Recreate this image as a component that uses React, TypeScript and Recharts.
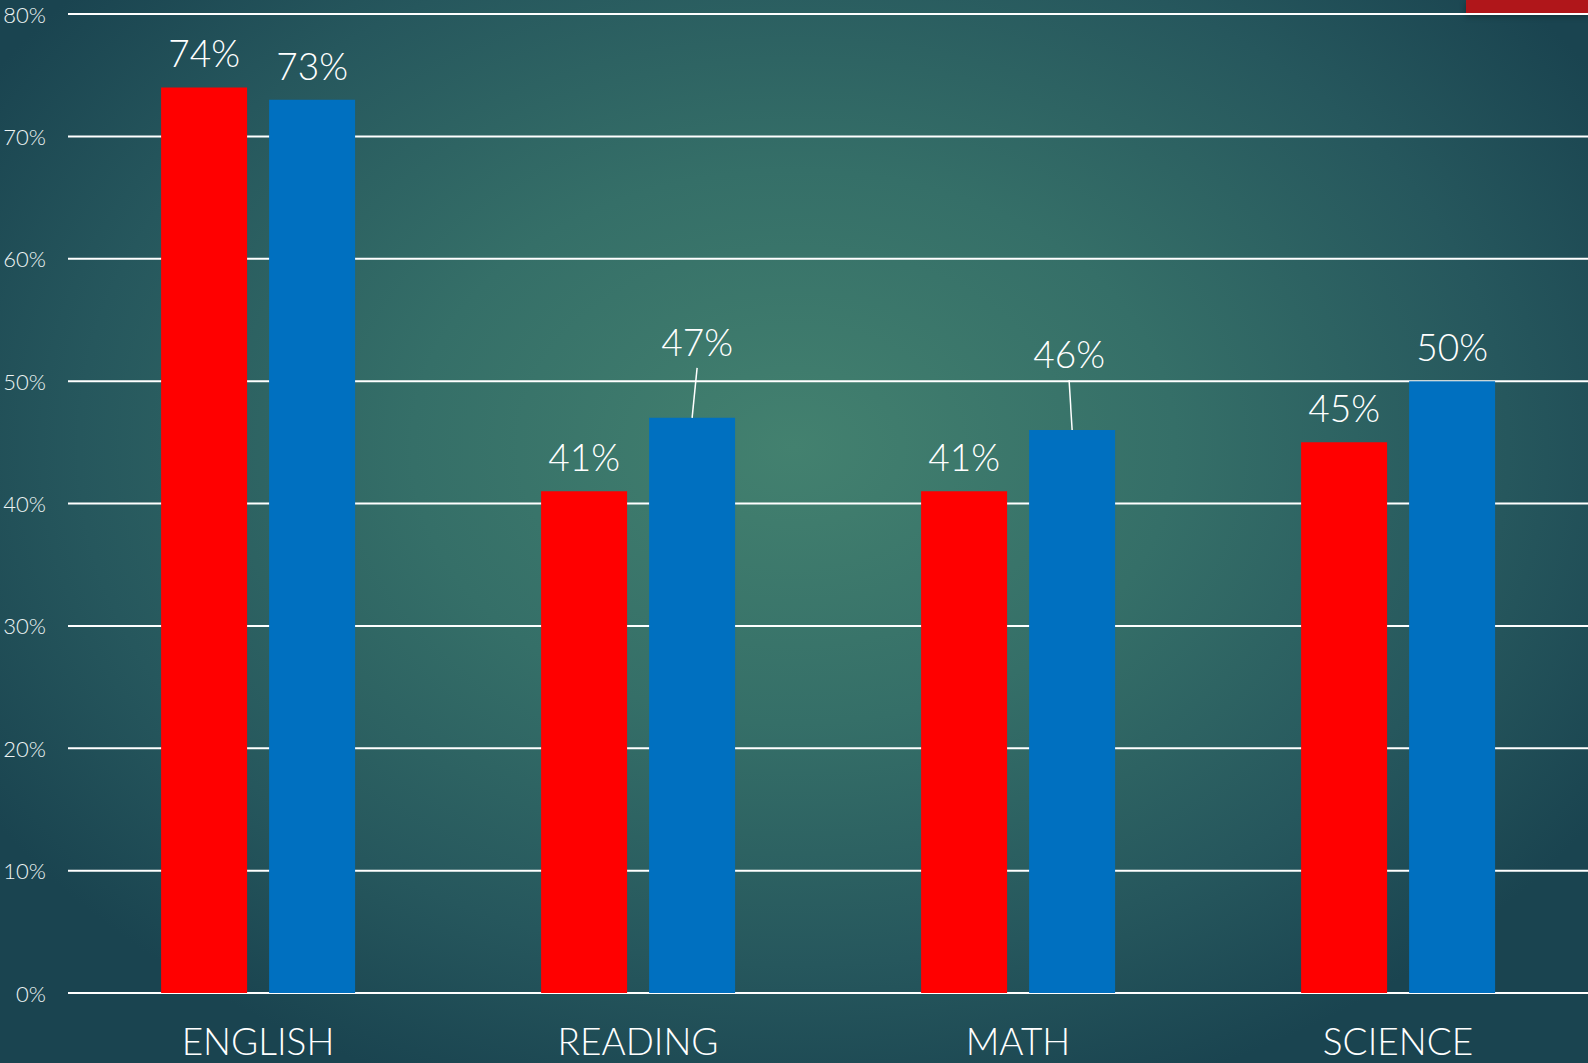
import React from 'react';
import { BarChart, Bar, XAxis, YAxis, CartesianGrid, LabelList } from 'recharts';

const categories = ['ENGLISH', 'READING', 'MATH', 'SCIENCE'];
const redValues = [74, 41, 41, 45];
const blueValues = [73, 47, 46, 50];
const yTicks = [0, 10, 20, 30, 40, 50, 60, 70, 80];

const data = categories.map((c, i) => ({ name: c, red: redValues[i], blue: blueValues[i] }));

// label callouts (lifted labels with leader lines) for blue series
const blueLabelLift: Record<number, { dy: number; dx: number }> = {
  1: { dy: 42, dx: 5 },
  2: { dy: 42, dx: -3 },
};

const FONT = 'Lato, "Open Sans", sans-serif';

const makeLabel = (lifts: Record<number, { dy: number; dx: number }>) => (props: any) => {
  const { x, y, width, value, index } = props;
  const cx = x + width / 2;
  const lift = lifts[index];
  const dy = lift ? lift.dy : 0;
  const dx = lift ? lift.dx : 0;
  const ty = y - 20 - dy;
  return (
    <g>
      {lift && (
        <line x1={cx} y1={y} x2={cx + dx} y2={ty + 12} stroke="#ffffff" strokeWidth={1.5} />
      )}
      <text x={cx + dx} y={ty} textAnchor="middle" fill="#ffffff" fontSize={37} fontFamily={FONT} fontWeight={300}>
        {value}%
      </text>
    </g>
  );
};

const YTick = (props: any) => {
  const { y, payload } = props;
  return (
    <text x={46} y={y} textAnchor="end" dominantBaseline="central" fill="#EEF4F4" fontSize={22} fontFamily={FONT} fontWeight={300}>
      {payload.value}%
    </text>
  );
};

const XTick = (props: any) => {
  const { x, y, payload } = props;
  return (
    <text x={x} y={y + 39} textAnchor="middle" dominantBaseline="central" fill="#ffffff" fontSize={37} fontFamily={FONT} fontWeight={300}>
      {payload.value}
    </text>
  );
};

export default function App() {
  return (
    <div
      style={{
        position: 'absolute',
        left: 0,
        top: 0,
        width: 1588,
        height: 1063,
        overflow: 'hidden',
        background:
          'radial-gradient(ellipse 60% 65% at 50% 42%, #43816F 0%, #356F68 40%, #26575D 75%, #1A4450 100%)',
      }}
    >
      <div
        style={{
          position: 'absolute',
          left: 1466,
          top: 0,
          width: 122,
          height: 13,
          background: '#B0161A',
          boxShadow: '0 3px 6px rgba(0,0,0,0.35)',
        }}
      />
      <div style={{ position: 'absolute', left: 0, top: 0 }}>
        <BarChart
          width={1588}
          height={1063}
          data={data}
          margin={{ top: 14, right: 0, bottom: 0, left: 0 }}
          barGap={22}
          barCategoryGap="24.5%"
        >
          <CartesianGrid horizontal vertical={false} stroke="#ffffff" strokeWidth={2} strokeOpacity={1} />
          <XAxis dataKey="name" axisLine={false} tickLine={false} height={70} tick={<XTick />} interval={0} />
          <YAxis
            domain={[0, 80]}
            ticks={yTicks}
            width={68}
            axisLine={false}
            tickLine={false}
            tick={<YTick />}
            interval={0}
          />
          <Bar dataKey="red" fill="#FF0000" isAnimationActive={false}>
            <LabelList dataKey="red" content={makeLabel({})} />
          </Bar>
          <Bar dataKey="blue" fill="#0070C0" isAnimationActive={false}>
            <LabelList dataKey="blue" content={makeLabel(blueLabelLift)} />
          </Bar>
        </BarChart>
      </div>
    </div>
  );
}
